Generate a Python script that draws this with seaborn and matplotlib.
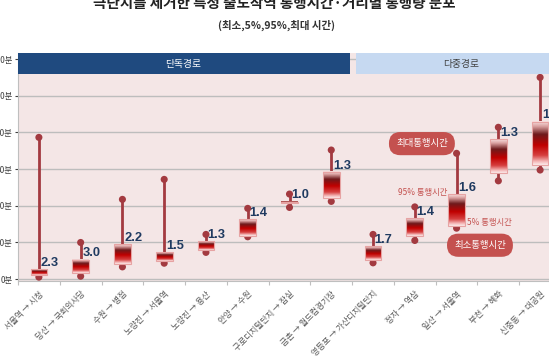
import numpy as np
import pandas as pd
import matplotlib
matplotlib.use("Agg")
import matplotlib.pyplot as plt
from matplotlib.colors import LinearSegmentedColormap
import seaborn as sns

# ---------------- data ----------------
categories = ["서울역 → 시청", "당산 → 국회의사당", "수원 → 병점", "노량진 → 서울역",
              "노량진 → 용산", "안양 → 수원", "구로디지털단지 → 잠실", "금촌 → 월드컵경기장",
              "영등포 → 가산디지털단지", "정자 → 역삼", "일산 → 서울역", "부천 → 혜화",
              "신중동 → 대공원"]
max_time = [77.3, 20.0, 43.5, 54.4, 24.4, 38.6, 46.4, 70.4, 24.4, 39.4, 68.6, 82.8, 110.0]
p95_time = [5.4, 10.6, 18.9, 14.6, 20.7, 32.7, 42.3, 58.2, 18.0, 33.1, 46.2, 76.2, 85.8]
p5_time = [2.3, 3.5, 8.4, 9.8, 15.8, 23.8, 41.4, 44.0, 10.5, 23.5, 28.9, 58.0, 62.2]
min_time = [1.1, 1.6, 6.7, 8.7, 14.6, 23.1, 39.1, 42.4, 8.9, 21.1, 27.8, 53.6, 59.5]
ratio_labels = ["2.3", "3.0", "2.2", "1.5", "1.3", "1.4", "1.0", "1.3", "1.7", "1.4", "1.6", "1.3", "1.4"]
y_ticks = [0, 20, 40, 60, 80, 100, 120]
y_tick_labels = ["0분", "20분", "40분", "60분", "80분", "100분", "120분"]
group_names = ["단독경로", "다중경로"]
title = "극단치를 제거한 특정 출도착역 통행시간·거리별 통행량 분포"
subtitle = "(최소,5%,95%,최대 시간)"

# ---------------- style ----------------
sns.set_style("white")
plt.rcParams["font.family"] = ["Noto Sans CJK KR", "DejaVu Sans"]

fig = plt.figure(figsize=(5.49, 3.63), dpi=100)
fig.patch.set_facecolor("white")
ax = fig.add_axes([18 / 549, (363 - 281) / 363, (561 - 18) / 549, (281 - 53) / 363])
ax.set_facecolor("#F4E6E6")

x = np.arange(len(categories))
df = pd.DataFrame({"x": x, "max": max_time, "min": min_time,
                   "p95": p95_time, "p5": p5_time})

line_col = "#A33A40"
# whisker lines
ax.vlines(df["x"], df["min"], df["max"], color=line_col, lw=2.0, zorder=3)
# dots
dots = pd.concat([df[["x", "max"]].rename(columns={"max": "v"}),
                  df[["x", "min"]].rename(columns={"min": "v"})])
sns.scatterplot(data=dots, x="x", y="v", color=line_col, s=26, edgecolor="none",
                ax=ax, zorder=4, legend=False)

# gradient boxes
cmap = LinearSegmentedColormap.from_list(
    "boxgrad",
    [(0.0, "#FBE3E3"), (0.12, "#D9A0A0"), (0.3, "#6E1A1C"), (0.55, "#C00000"),
     (0.78, "#D64040"), (0.92, "#F4B8B8"), (1.0, "#FDEDED")])
grad = np.linspace(0, 1, 256).reshape(-1, 1)
hw = 0.2
for xi, lo, hi in zip(df["x"], df["p5"], df["p95"]):
    ax.imshow(grad, cmap=cmap, aspect="auto", extent=(xi - hw, xi + hw, lo, hi),
              zorder=5, interpolation="bilinear")
    ax.add_patch(plt.Rectangle((xi - hw, lo), 2 * hw, hi - lo, fill=False,
                               ec="#E6A3A3", lw=0.8, zorder=6))

# ratio labels
for xi, hi, lab in zip(df["x"], df["p95"], ratio_labels):
    ax.text(xi + 0.04, hi + 3.6, lab, ha="left", va="center", fontsize=9.3,
            fontweight="bold", color="#1F3A60", family=["Liberation Sans", "DejaVu Sans"],
            zorder=7)

ymax = 123.3
ax.set_xlim(-0.5, len(categories) - 0.5)
ax.set_ylim(-1, ymax)
ax.set_yticks(y_ticks)
ax.set_yticklabels(y_tick_labels)
ax.yaxis.grid(True, color="#BDBDBD", lw=1.0)
ax.set_axisbelow(True)
ax.tick_params(axis="y", labelsize=6, colors="#404040", length=2, pad=2, left=True)
ax.set_xticks(x)
ax.set_xticklabels(categories, rotation=45, ha="right", va="top",
                   rotation_mode="anchor", fontsize=6, color="#595959")
ax.tick_params(axis="x", length=0, pad=6)
ax.set_xticks(np.arange(-0.5, len(categories), 1), minor=True)
ax.tick_params(axis="x", which="minor", length=3, color="#BFBFBF", width=0.8, bottom=True)
for s in ["top", "right"]:
    ax.spines[s].set_visible(False)
ax.spines["left"].set_color("#BFBFBF")
ax.spines["bottom"].set_color("#BFBFBF")
ax.set_xlabel("")
ax.set_ylabel("")

# group header bands
band_lo = 111.8
ax.add_patch(plt.Rectangle((-0.5, band_lo), 7.95, ymax - band_lo, fc="#1F4A7F",
                           ec="none", zorder=8, clip_on=False))
ax.add_patch(plt.Rectangle((7.6, band_lo), 6.0, ymax - band_lo, fc="#C6D9F1",
                           ec="none", zorder=8, clip_on=False))
ax.text(3.45, (band_lo + ymax) / 2, group_names[0], ha="center", va="center",
        fontsize=7, color="white", zorder=9)
ax.text(10.1, (band_lo + ymax) / 2, group_names[1], ha="center", va="center",
        fontsize=7, color="#404040", zorder=9)

# annotations
pill = dict(boxstyle="round,pad=0.75,rounding_size=1.2", fc="#C4514F", ec="none")
ax.text(9.17, 73.9, "최대통행시간", ha="center", va="center", fontsize=6.8,
        color="white", bbox=pill, zorder=9)
ax.text(10.56, 18.5, "최소통행시간", ha="center", va="center", fontsize=6.8,
        color="white", bbox=pill, zorder=9)
ax.text(9.79, 47.1, "95% 통행시간", ha="right", va="center", fontsize=6,
        color="#C4514F", style="italic", zorder=9)
ax.text(10.24, 30.9, "5% 통행시간", ha="left", va="center", fontsize=6,
        color="#C4514F", style="italic", zorder=9)

# titles
fig.text(0.5, 1 - 3 / 363, title, ha="center", va="center", fontsize=10.5,
         fontweight="bold", color="#222222")
fig.text(0.503, 1 - 25 / 363, subtitle, ha="center", va="center", fontsize=7.5,
         fontweight="bold", color="#333333")

fig.savefig("out.png", dpi=100)
